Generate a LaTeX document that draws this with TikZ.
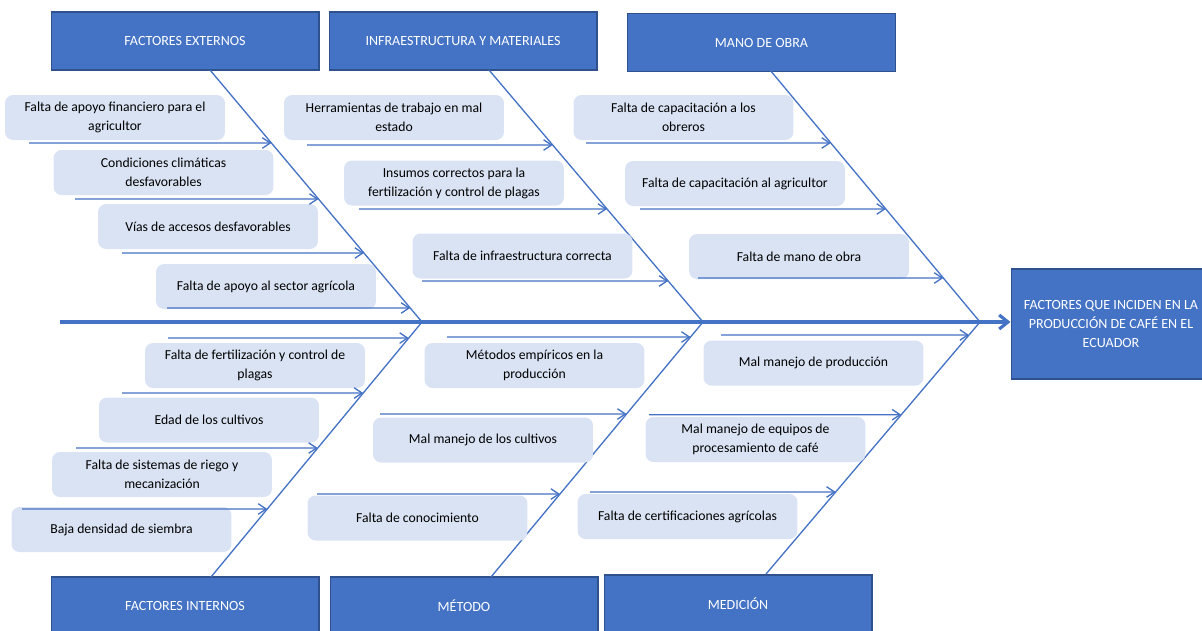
\documentclass[tikz,border=0pt]{standalone}
\usepackage{fontspec}
\setmainfont{Carlito}
\usetikzlibrary{arrows.meta,calc}
\definecolor{hdrblue}{HTML}{4472C4}
\definecolor{hdrline}{HTML}{2F528F}
\definecolor{causefill}{HTML}{DAE3F3}

\begin{document}
\begin{tikzpicture}[x=0.02cm,y=-0.02cm,
  header/.style={draw=hdrline,line width=0.6pt,fill=hdrblue,text=white,minimum width=5.36cm,minimum height=1.16cm,inner sep=0pt,align=center,font=\fontsize{8}{10.8}\selectfont},
  cause/.style={fill=causefill,rounded corners=0.16cm,minimum width=4.4cm,minimum height=0.9cm,inner sep=0pt,align=center,font=\fontsize{7.8}{10.8}\selectfont},
  bone/.style={draw=hdrblue,line width=0.75pt},
  catarrow/.style={draw=hdrblue,line width=0.75pt,-{Straight Barb[length=4.5pt,width=6pt]}},
  spine/.style={draw=hdrblue,line width=1.8pt,-{Straight Barb[length=5pt,width=8pt,line width=1.8pt]}}]

\clip (0,0) rectangle (1202,630);

% Category boxes
\node[header] (hExt) at (185,41) {FACTORES EXTERNOS};
\node[header] (hInf) at (463,41) {INFRAESTRUCTURA Y MATERIALES};
\node[header] (hMan) at (761.5,42.5) {MANO DE OBRA};
\node[header] (hInt) at (185,606) {FACTORES INTERNOS};
\node[header] (hMet) at (464,606) {MÉTODO};
\node[header] (hMed) at (738,604) {MEDICIÓN};

% Effect
\node[header,minimum width=4cm,minimum height=2.2cm] (effect) at (1111,324)
  {FACTORES QUE INCIDEN EN LA\\PRODUCCIÓN DE CAFÉ EN EL\\ECUADOR};

% Bone ends
\coordinate (tail) at (60,322);
\coordinate (j1) at (422,322);
\coordinate (j2) at (703,322);
\coordinate (j3) at (980,322);
\coordinate (t1) at (210,70);
\coordinate (t2) at (489,70);
\coordinate (t3) at (770,70);
\coordinate (u1) at (211,577);
\coordinate (u2) at (491,577);
\coordinate (u3) at (766,574);

% Spine and bones
\draw[spine] (tail) -- (tail -| effect.west);
\foreach \b in {1,2,3} {
  \draw[bone] (t\b) -- (j\b);
  \draw[bone] (u\b) -- (j\b);
}

% Causes, top
\node[cause] (ext1) at (115,117.5) {Falta de apoyo financiero para el\\agricultor};
\node[cause] (ext2) at (163.5,172.5) {Condiciones climáticas\\desfavorables};
\node[cause] (ext3) at (208,226.5) {Vías de accesos desfavorables};
\node[cause] (ext4) at (266,286.5) {Falta de apoyo al sector agrícola};
\node[cause] (inf1) at (394,117.5) {Herramientas de trabajo en mal\\estado};
\node[cause] (inf2) at (454,183) {Insumos correctos para la\\fertilización y control de plagas};
\node[cause] (inf3) at (522.5,256) {Falta de infraestructura correcta};
\node[cause] (man1) at (683.5,117.5) {Falta de capacitación a los\\obreros};
\node[cause] (man2) at (735,183.5) {Falta de capacitación al agricultor};
\node[cause] (man3) at (799,256.5) {Falta de mano de obra};

% Causes, bottom
\node[cause] (int1) at (255,365.5) {Falta de fertilización y control de\\plagas};
\node[cause] (int2) at (209,420) {Edad de los cultivos};
\node[cause] (int3) at (162,474.5) {Falta de sistemas de riego y\\mecanización};
\node[cause] (int4) at (121.5,529.5) {Baja densidad de siembra};
\node[cause] (met1) at (534.5,365.5) {Métodos empíricos en la\\producción};
\node[cause] (met2) at (483,440) {Mal manejo de los cultivos};
\node[cause] (met3) at (417.5,518) {Falta de conocimiento};
\node[cause] (med1) at (813.5,363) {Mal manejo de producción};
\node[cause] (med2) at (755.5,439.5) {Mal manejo de equipos de\\procesamiento de café};
\node[cause] (med3) at (687.5,516.5) {Falta de certificaciones agrícolas};

% Arrows onto the bones
\foreach \i/\xs/\ys/\b in {1/29/143/1, 2/75/199/1, 3/122/253/1, 4/167/308/1,
    5/307/145/2, 6/359/209/2, 7/422/281/2, 8/586/143/3, 9/640/209/3, 10/698/278/3} {
  \coordinate (s\i) at (\xs,\ys);
  \draw[catarrow] (s\i) -- ($(t\b)!{(\ys-70)/252}!(j\b)$);
}
\foreach \i/\xs/\ys/\b/\yb in {11/168/338/1/577, 12/122/393/1/577, 13/76/448/1/577, 14/22/509/1/577,
    15/447/337/2/577, 16/380/414/2/577, 17/317/494/2/577,
    18/721/335/3/574, 19/649/414.7/3/574, 20/590/492/3/574} {
  \coordinate (s\i) at (\xs,\ys);
  \draw[catarrow] (s\i) -- ($(j\b)!{(\ys-322)/(\yb-322)}!(u\b)$);
}

\end{tikzpicture}
\end{document}
